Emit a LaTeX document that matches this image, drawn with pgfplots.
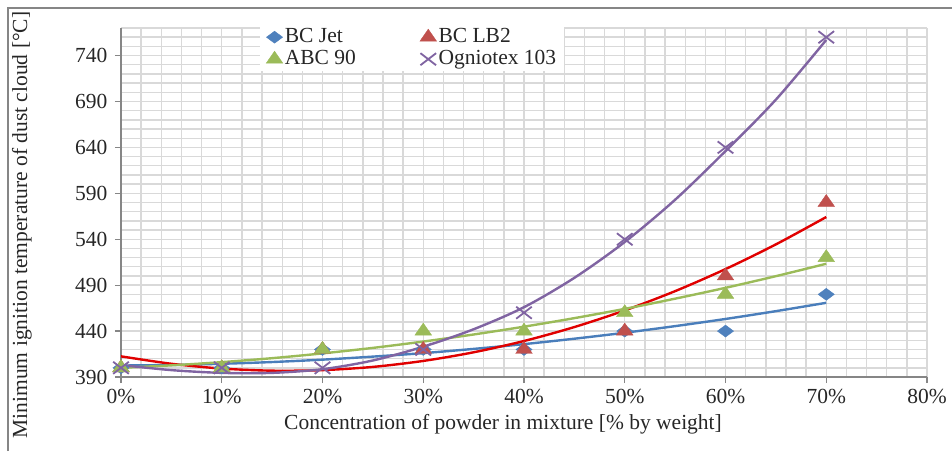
\documentclass[border=0pt]{standalone}
\usepackage{fontspec}
\setmainfont{Liberation Serif}
\usepackage{pgfplots}
\pgfplotsset{compat=1.18}
\definecolor{cjet}{HTML}{4F81BD}
\definecolor{clb}{HTML}{C0504D}
\definecolor{cabc}{HTML}{9BBB59}
\definecolor{cogn}{HTML}{8064A2}
\definecolor{tjet}{HTML}{4A7EBB}
\definecolor{tlb}{HTML}{E00000}
\definecolor{axgray}{HTML}{868686}
\definecolor{gridgray}{HTML}{D9D9D9}
\definecolor{txt}{HTML}{262626}
\newcommand{\fs}{\fontsize{21.5}{22}\selectfont}
\begin{document}
\begin{tikzpicture}[x=1pt,y=1pt]
\useasboundingbox (0,0) rectangle (952,451);
\draw[axgray, line width=1.2pt] (8,0) -- (8,443) -- (952,443);
\begin{axis}[
  at={(121pt,74pt)}, anchor=south west,
  scale only axis, width=806pt, height=349pt,
  xmin=0, xmax=80, ymin=390, ymax=770,
  xtick={0,10,...,80},
  xticklabels={0\%,10\%,20\%,30\%,40\%,50\%,60\%,70\%,80\%},
  ytick={390,440,...,740},
  yticklabels={390,440,490,540,590,640,690,740},
  minor xtick={0,2,...,80},
  minor ytick={390,400,...,770},
  grid=both,
  major grid style={gridgray, line width=1.4pt},
  minor grid style={gridgray, line width=1.4pt},
  axis x line*=bottom, axis y line*=left,
  axis line style={axgray, line width=1.3pt, -},
  tick align=outside, major tick length=6pt, minor tick length=0pt,
  tick style={axgray, line width=1.3pt},
  ticklabel style={font=\fs, text=txt},
  xticklabel style={yshift=-3pt},
  yticklabel style={xshift=-4pt},
  legend columns=2,
  legend cell align=left,
  legend style={at={(0.1725,1.0086)}, anchor=north west, draw=none, fill=white,
    font=\fs, text=txt, inner xsep=6pt, inner ysep=1pt, row sep=0pt,
    nodes={inner xsep=2pt, inner ysep=1pt, text height=15pt, text depth=5pt},
    /tikz/column 2/.style={column sep=62pt}},
]
% data points
\addplot[only marks, mark=diamond*, mark size=6pt, mark options={xscale=1.8, fill=cjet, draw=cjet}]
  coordinates {(0,400)(10,400)(20,420)(30,420)(40,420)(50,440)(60,440)(70,480)};
\addlegendentry{BC Jet}
\addplot[only marks, mark=triangle*, mark size=8pt, mark options={xscale=1.2, fill=clb, draw=clb}]
  coordinates {(0,400)(10,400)(20,420)(30,420)(40,420)(50,440)(60,500)(70,580)};
\addlegendentry{BC LB2}
\addplot[only marks, mark=triangle*, mark size=8pt, mark options={xscale=1.2, fill=cabc, draw=cabc}]
  coordinates {(0,400)(10,400)(20,420)(30,440)(40,440)(50,460)(60,480)(70,520)};
\addlegendentry{ABC 90}
\addplot[only marks, mark=x, mark size=8.5pt, mark options={xscale=1.3, draw=cogn, line width=1.8pt}]
  coordinates {(0,400)(10,400)(20,400)(30,420)(40,460)(50,540)(60,640)(70,760)};
\addlegendentry{Ogniotex 103}
% trend lines
\addplot[forget plot, tjet, line width=2.4pt, smooth] coordinates {
 (0,402.5)(5,403.1)(10,404.4)(15,406.3)(20,408.9)(25,412.2)(30,416.0)(35,420.6)
 (40,425.8)(45,431.7)(50,438.2)(55,445.4)(60,453.2)(65,461.7)(70,470.8)};
\addplot[forget plot, tlb, line width=2.4pt, smooth] coordinates {
 (0,412.5)(5,404.4)(10,399.2)(15,396.9)(20,397.5)(25,401.0)(30,407.5)(35,416.9)
 (40,429.2)(45,444.4)(50,462.5)(55,483.5)(60,507.5)(65,534.4)(70,564.2)};
\addplot[forget plot, cabc, line width=2.4pt, smooth] coordinates {
 (0,400.0)(5,402.7)(10,406.2)(15,410.5)(20,415.7)(25,421.7)(30,428.6)(35,436.3)
 (40,444.8)(45,454.1)(50,464.2)(55,475.3)(60,487.1)(65,499.8)(70,513.3)};
\addplot[forget plot, cogn, line width=2.4pt, smooth] coordinates {
 (0,403)(5,397.5)(10,394.5)(15,394.5)(20,398.5)(25,408)(30,423)(35,442)
 (40,466)(45,498)(50,537)(55,583)(60,636)(65,692)(70,757)};
\end{axis}
\node[rotate=90, font=\fs, text=txt] at (22,226) {Minimum ignition temperature of dust cloud [\textdegree C]};
\node[font=\fs, text=txt] at (503,27) {Concentration of powder in mixture [\% by weight]};
\end{tikzpicture}
\end{document}
